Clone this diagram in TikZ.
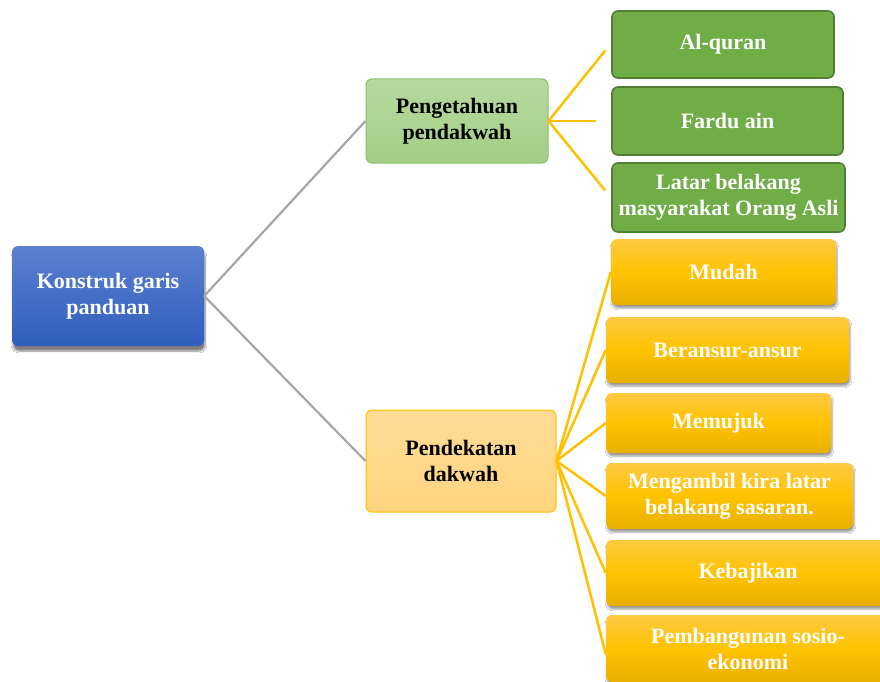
\documentclass[tikz,border=0pt]{standalone}
\usepackage{fontspec}
\setmainfont{Liberation Serif}
\usetikzlibrary{shadows.blur}
\definecolor{blueTop}{HTML}{5B80D0}
\definecolor{blueBot}{HTML}{2F5EBE}
\definecolor{lgreenTop}{HTML}{B6DA9E}
\definecolor{lgreenBot}{HTML}{A3CE86}
\definecolor{lgreenLine}{HTML}{8CC06A}
\definecolor{lorTop}{HTML}{FFDC96}
\definecolor{lorBot}{HTML}{FFD47E}
\definecolor{orLine}{HTML}{FFC000}
\definecolor{dgreen}{HTML}{70AD47}
\definecolor{dgreenLine}{HTML}{507E32}
\definecolor{orTop}{HTML}{FFC942}
\definecolor{orMid}{HTML}{FFC300}
\definecolor{orBot}{HTML}{E8AF00}
\definecolor{grayLine}{HTML}{A6A6A6}
\tikzset{
  box/.style={rounded corners=6pt, align=center, inner sep=0pt,
    font=\bfseries\fontsize{22}{26}\selectfont},
  rootbox/.style={box, top color=blueTop, bottom color=blueBot, text=white,
    blur shadow={shadow xshift=1pt, shadow yshift=-5pt, shadow opacity=50, shadow blur steps=6}},
  pengbox/.style={box, top color=lgreenTop, bottom color=lgreenBot, draw=lgreenLine, line width=1pt, text=black},
  pendbox/.style={box, top color=lorTop, bottom color=lorBot, draw=orLine, line width=1pt, text=black},
  greenbox/.style={box, fill=dgreen, draw=dgreenLine, line width=1.6pt, text=white},
  orbox/.style={box, top color=orTop, bottom color=orBot, middle color=orMid, text=white,
    blur shadow={shadow xshift=1pt, shadow yshift=-3pt, shadow opacity=40, shadow blur steps=5}},
  grayconn/.style={draw=grayLine, line width=2.2pt},
  yconn/.style={draw=orLine, line width=2.5pt},
}
\begin{document}
\begin{tikzpicture}[x=1pt,y=-1pt]
\useasboundingbox (0,0) rectangle (880,682);
\fill[white] (0,0) rectangle (880,682);

\node[rootbox, minimum width=192pt, minimum height=100pt] (root) at (108,296) {Konstruk garis\\panduan};
\node[pengbox, minimum width=182pt, minimum height=84pt] (peng) at (457,121) {Pengetahuan\\pendakwah};
\node[pendbox, minimum width=190pt, minimum height=102pt] (pend) at (461,461) {Pendekatan\\dakwah};

\node[greenbox, minimum width=222pt, minimum height=67pt] (al) at (723,44.5) {Al-quran};
\node[greenbox, minimum width=231pt, minimum height=68pt] (fardu) at (727.5,121) {Fardu ain};
\node[greenbox, minimum width=233pt, minimum height=69pt] (latar) at (728.5,197.5) {Latar belakang\\masyarakat Orang Asli};

\node[orbox, minimum width=225pt, minimum height=66pt] (mudah) at (723.5,272) {Mudah};
\node[orbox, minimum width=243pt, minimum height=66pt] (beransur) at (727.5,350) {Beransur-ansur};
\node[orbox, minimum width=225pt, minimum height=60pt] (memujuk) at (718.5,423) {Memujuk};
\node[orbox, minimum width=247pt, minimum height=66pt] (mengambil) at (729.5,496) {Mengambil kira latar\\belakang sasaran.};
\node[orbox, minimum width=284pt, minimum height=66pt] (kebajikan) at (748,573) {Kebajikan};
\node[orbox, minimum width=284pt, minimum height=67pt] (pembangunan) at (748,648.5) {Pembangunan sosio-\\ekonomi};

\draw[grayconn] (root.east) -- (peng.west);
\draw[grayconn] (root.east) -- (pend.west);

\draw[yconn] (peng.east) -- ([xshift=-6pt,yshift=-6pt]al.west);
\draw[yconn] (peng.east) -- ([xshift=-15pt]fardu.west);
\draw[yconn] (peng.east) -- ([xshift=-6pt,yshift=7pt]latar.west);

\draw[yconn] (pend.east) -- (mudah.west);
\draw[yconn] (pend.east) -- (beransur.west);
\draw[yconn] (pend.east) -- (memujuk.west);
\draw[yconn] (pend.east) -- (mengambil.west);
\draw[yconn] (pend.east) -- (kebajikan.west);
\draw[yconn] (pend.east) -- ([yshift=-6pt]pembangunan.west);
\end{tikzpicture}
\end{document}
